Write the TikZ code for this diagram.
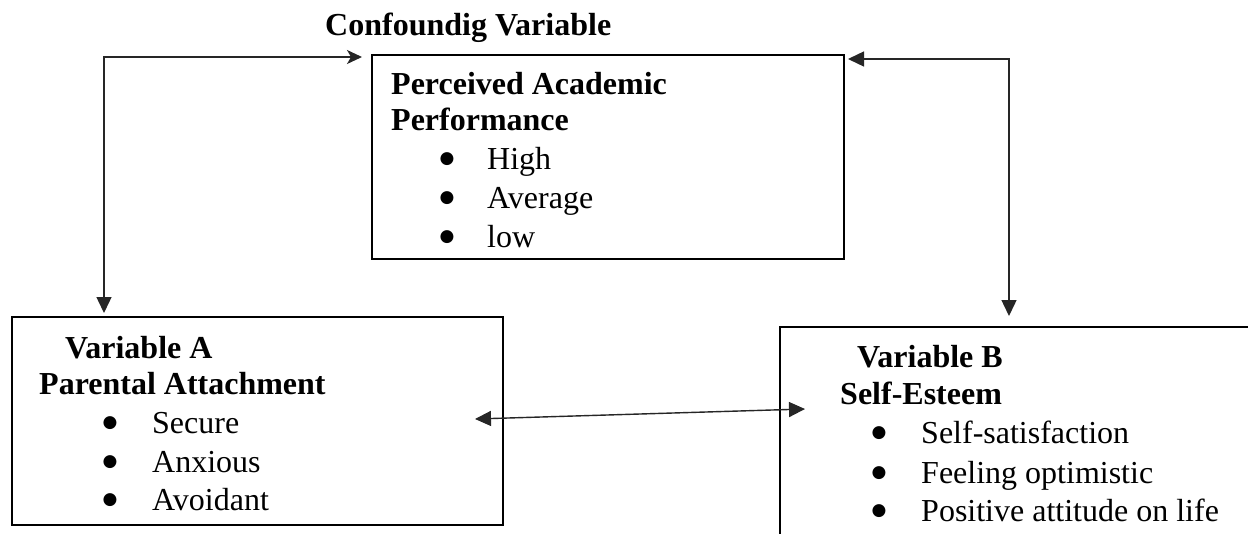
\documentclass[tikz,border=0pt]{standalone}
\usepackage{fontspec}
\setmainfont{Liberation Serif}
\newfontfamily\symfont{DejaVu Sans}
\usetikzlibrary{arrows.meta,calc}
\newcommand{\bigbul}{{\symfont\fontsize{17}{17}\selectfont ●}}
\tikzset{
  box/.style={draw=black, line width=2pt, inner sep=0pt, anchor=north west},
  conn/.style={draw=black!85, line width=1.4pt},
  tri/.tip={Triangle[length=16pt,width=15pt]},
  stl/.tip={Stealth[length=15pt,width=14pt,inset=4pt]},
  hd/.style={font=\fontsize{32}{37}\selectfont\bfseries, anchor=base west, inner sep=0pt},
  itm/.style={font=\fontsize{32}{37}\selectfont, anchor=base west, inner sep=0pt},
  bul/.style={anchor=base, inner sep=0pt, yshift=5.5pt},
}
\begin{document}
\begin{tikzpicture}[x=1pt, y=-1pt]
\useasboundingbox (0,0) rectangle (1248,533);
\clip (0,0) rectangle (1248,533);
\fill[white] (0,0) rectangle (1248,533);

% boxes
\node[box, minimum width=472pt, minimum height=204pt] (conf) at (371,54) {};
\node[box, minimum width=491pt, minimum height=208pt] (varA) at (11,316) {};
\node[box, minimum width=520pt, minimum height=260pt] (varB) at (779,326) {};

% title
\node[hd] (title) at (325,35) {Confoundig Variable};

% confounding box text
\node[hd] (c1) at (391,94) {Perceived Academic};
\node[hd] (c2) at (391,130) {Performance};
\node[bul] (cb1) at (447,169) {\bigbul};
\node[itm] (ci1) at (487,169) {High};
\node[bul] (cb2) at (447,208) {\bigbul};
\node[itm] (ci2) at (487,208) {Average};
\node[bul] (cb3) at (447,247) {\bigbul};
\node[itm] (ci3) at (487,247) {low};

% variable A text
\node[hd] (a1) at (65,358) {Variable A};
\node[hd] (a2) at (39,394) {Parental Attachment};
\node[bul] (ab1) at (110,433) {\bigbul};
\node[itm] (ai1) at (152,433) {Secure};
\node[bul] (ab2) at (110,472) {\bigbul};
\node[itm] (ai2) at (152,472) {Anxious};
\node[bul] (ab3) at (110,510) {\bigbul};
\node[itm] (ai3) at (152,510) {Avoidant};

% variable B text
\node[hd] (b1) at (857,367) {Variable B};
\node[hd] (b2) at (840,404) {Self-Esteem};
\node[bul] (bb1) at (879,443) {\bigbul};
\node[itm] (bi1) at (921,443) {Self-satisfaction};
\node[bul] (bb2) at (879,483) {\bigbul};
\node[itm] (bi2) at (921,483) {Feeling optimistic};
\node[bul] (bb3) at (879,521) {\bigbul};
\node[itm] (bi3) at (921,521) {Positive attitude on life};

% connector helper coordinates
\coordinate (lt) at (104,57);
\coordinate (rt) at (1009,59);

% connectors
\draw[conn, {tri}-{stl}] ([yshift=3pt]varA.north -| lt) |- ([xshift=-9pt,yshift=-3pt]conf.north west);
\draw[conn, {tri}-{tri}] ([xshift=3pt,yshift=-5pt]conf.north east) -| ([yshift=10pt]varB.north -| rt);
\draw[conn, {tri}-{tri}] ([xshift=-29pt,yshift=2pt]varA.east) -- ([xshift=26pt,yshift=-83pt]varB.north west);
\end{tikzpicture}
\end{document}
